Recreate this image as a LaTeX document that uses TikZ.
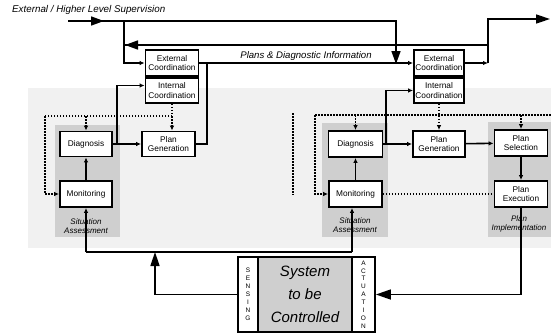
\documentclass[tikz,border=0pt]{standalone}
\usepackage{fontspec}
\setmainfont{Liberation Sans}
\usetikzlibrary{arrows.meta}
\tikzset{
  box/.style={draw, line width=1.8pt, fill=white, minimum width=53pt, minimum height=25pt,
    align=center, inner sep=1pt, font=\fontsize{8.3}{9.2}\selectfont},
  paneltext/.style={align=center, inner sep=0pt, font=\itshape\fontsize{8}{9.5}\selectfont},
  conn/.style={line width=1.6pt},
  dotconn/.style={line width=1.6pt, dash pattern=on 1.5pt off 1.5pt},
  small/.style={-{Latex[length=5pt,width=4.5pt]}},
  bigtip/.style={-{Triangle[length=13pt,width=9pt]}},
  strip/.style={draw, line width=1.8pt, fill=white, minimum width=20pt, minimum height=75pt,
    inner sep=0pt, align=center, font=\fontsize{6.5}{8}\selectfont},
}
\begin{document}
\begin{tikzpicture}[x=1pt,y=-1pt]
\useasboundingbox (0,0) rectangle (551,333);
% background stipple
\fill[gray!11] (28,88) rectangle (551,248);
% panels
\fill[gray!38] (55,125) rectangle (120,237);
\fill[gray!38] (322,123) rectangle (388,237);
\fill[gray!38] (488,122) rectangle (551,237);
\node[paneltext] (sa1) at (86,226) {Situation\\Assessment};
\node[paneltext] (sa2) at (355,225) {Situation\\Assessment};
\node[paneltext] (pim) at (519,224) {Plan\\Implementation};

% texts
\node[anchor=west, inner sep=0pt, font=\itshape\fontsize{9.8}{11}\selectfont] (sup) at (12,10) {External / Higher Level Supervision};
\node[inner sep=0pt, font=\itshape\fontsize{9.6}{11}\selectfont] (plans) at (306,56) {Plans \& Diagnostic Information};

% left boxes
\node[box, minimum height=26pt] (lec) at (172,63) {External\\Coordination};
\node[box] (lic) at (172,90.5) {Internal\\Coordination};
\node[box] (lpg) at (168.5,144) {Plan\\Generation};
\node[box, minimum width=52pt] (ld) at (86,144) {Diagnosis};
\node[box, minimum width=52pt, minimum height=26pt] (lm) at (86,194) {Monitoring};

% right boxes
\node[box, minimum width=50pt, minimum height=26pt] (rec) at (439,63) {External\\Coordination};
\node[box, minimum width=50pt] (ric) at (439,90.5) {Internal\\Coordination};
\node[box, minimum width=54pt, minimum height=26pt] (rd) at (355.5,144) {Diagnosis};
\node[box, minimum width=52pt, minimum height=26pt] (rpg) at (439,144) {Plan\\Generation};
\node[box, minimum height=26pt] (ps) at (521,143) {Plan\\Selection};
\node[box, minimum height=26pt] (rm) at (355.5,194) {Monitoring};
\node[box, minimum height=26pt] (pe) at (521,194) {Plan\\Execution};

% system
\node[strip] (sense) at (248,294.5) {S\\E\\N\\S\\I\\N\\G};
\node[draw, line width=1.8pt, fill=gray!38, minimum width=94pt, minimum height=75pt, inner sep=0pt,
  align=center, font=\itshape\fontsize{15}{23}\selectfont] (sys) at (305,294.5) {System\\to be\\Controlled};
\node[strip, minimum width=23pt, font=\fontsize{6.5}{7.9}\selectfont] (act) at (363.5,294.5) {A\\C\\T\\U\\A\\T\\I\\O\\N};

% coordinates
\coordinate (tstart) at (68,21);
\coordinate (tj1) at (124,21);
\coordinate (tj2) at (396,21);
\coordinate (tc) at (396,63);
\coordinate (lc) at (124,63);
\coordinate (fbR) at (488,45);
\coordinate (fbL) at (124,45);
\coordinate (oj) at (488,63);
\coordinate (otop) at (488,19);
\coordinate (oend) at (550,19);
\coordinate (pj) at (207,63);
\coordinate (dj) at (117,144);
\coordinate (lt) at (172,116);
\coordinate (ll) at (45,116);
\coordinate (ld1) at (86,116);
\coordinate (rt) at (439,115);
\coordinate (rl) at (315,115);
\coordinate (rr) at (551,115);
\coordinate (rd1) at (355.5,115);
\coordinate (rps) at (521,115);
\coordinate (rdj) at (386,144);
\coordinate (sj) at (155,252);
\coordinate (sl) at (86,252);
\coordinate (sr) at (352,252);
\coordinate (sepT) at (293,113);
\coordinate (sepB) at (293,195);

% top supervision line
\draw[conn] (tstart) -- (tj2) -- (tc);
\draw[conn, bigtip] (tstart) -- (104,21);
\draw[conn, bigtip] (tj2) -- (396,64);
\draw[conn, small] (tc) -- (rec.west);
\draw[conn, small] (tj1) -- (lc) -- (lec.west);
% feedback line
\draw[conn] (fbR) -- (fbL);
\draw[conn, bigtip] (fbR) -- (125,45);
% right external output
\draw[conn, small] (rec.east) -- (oj);
\draw[conn, -{Triangle[length=14pt,width=9pt]}] (oj) -- (otop) -- (oend);
% plans line
\draw[conn] (lec.east) -- (tc);
\draw[conn] (lpg.east) -| (pj);
% left diagnosis
\draw[conn] (ld.east) -- (dj);
\draw[conn, small] (dj) |- ([yshift=5pt]lic.west);
\draw[conn, small] (dj) -- (lpg.west);
\draw[conn, small] (lm) -- (ld);
% left dotted
\draw[dotconn] (lic.south) -- (lt);
\draw[dotconn, small] (lt) -- (lt |- lpg.north);
\draw[dotconn] (lt) -- (ll);
\draw[dotconn, small] (ll) |- (lm.west);
\draw[dotconn, small] (ld1) -- (ld.north);
% right dotted
\draw[dotconn, small] (ric.south) -- (rpg.north);
\draw[dotconn] (rl) -- (rr);
\draw[dotconn, small] (rd1) -- (rd.north);
\draw[dotconn, small] (rps) -- (ps.north);
\draw[dotconn, small] (rl) |- (rm.west);
\draw[dotconn] (sepT) -- (sepB);
% right diagnosis
\draw[conn] (rd.east) -- (rdj);
\draw[conn, small] (rdj) |- (ric.west);
\draw[conn, small] (rdj) -- (rpg.west);
\draw[conn, small] (rpg) -- (ps);
\draw[conn, small] (ps) -- (pe);
\draw[conn, small] (rm) -- (rd);
\draw[dotconn, line width=2pt] (rm.east) -- (pe.west);
% sensing / actuation
\draw[conn] (sl) -- (sr);
\draw[conn, -{Triangle[length=14pt,width=9pt]}] (sense.west) -| (sj);
\draw[conn, small] (sl) -- (lm.south);
\draw[conn, small] (sr) -- (sr |- rm.south);
\draw[conn, -{Triangle[length=15pt,width=10pt]}] (pe.south) |- (act.east);
\end{tikzpicture}
\end{document}
